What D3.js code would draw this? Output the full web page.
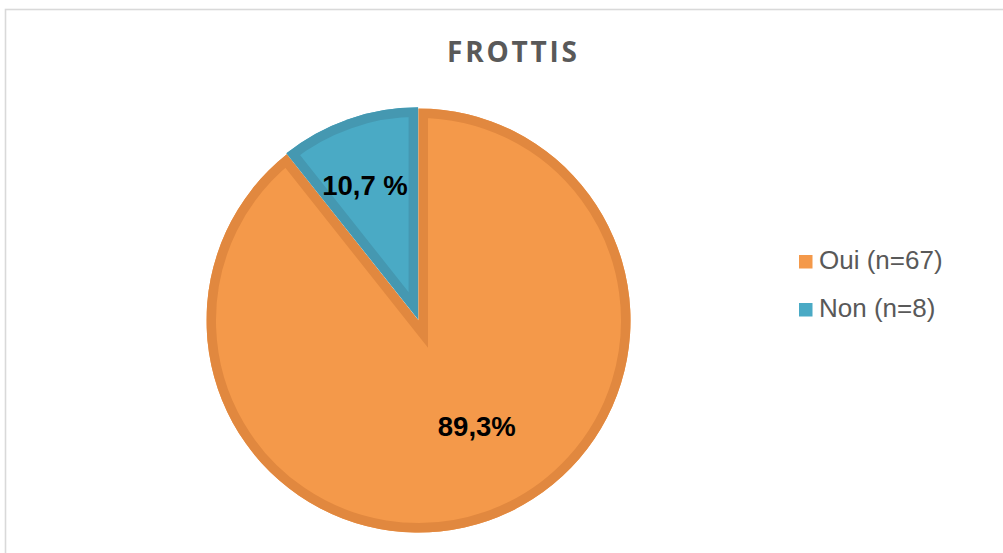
<!DOCTYPE html>
<html>
<head>
<meta charset="utf-8">
<script src="https://cdn.jsdelivr.net/npm/d3@7"></script>
<style>
  html, body { margin: 0; padding: 0; background: #fff; }
  svg { display: block; }
</style>
</head>
<body>
<svg id="chart" width="1003" height="553"></svg>
<script>
// ---- data ----
const title = "FROTTIS";
const categories = ["Oui (n=67)", "Non (n=8)"];
const counts = [67, 8];
const pctLabels = ["89,3%", "10,7 %"];
const fills = ["#F4994A", "#4AAAC5"];
const borders = ["#E1883F", "#4598B1"];

// ---- layout ----
const W = 1003, H = 553;
const cx = 418.5, cy = 320.5, R = 212;
const inner = 9.5;          // inner border width
const explodeNon = 1.2;
const labelPos = [{r: 121, a: 151.2}, {r: 146, a: -21.5}]; // radius, angle (deg from 12 o'clock)

const svg = d3.select("#chart");

// frame
svg.append("rect")
  .attr("x", 5.5).attr("y", 9.5)
  .attr("width", W + 20).attr("height", H + 20)
  .attr("fill", "#fff").attr("stroke", "#D9D9D9").attr("stroke-width", 1.6);

// title
svg.append("text")
  .attr("x", 512).attr("y", 62)
  .attr("text-anchor", "middle")
  .attr("font-family", "'Open Sans', sans-serif")
  .attr("font-weight", 700)
  .attr("font-size", 28)
  .attr("fill", "#595959")
  .attr("textLength", 130)
  .attr("lengthAdjust", "spacing")
  .attr("transform", "translate(512,62) scale(1,1.03) translate(-512,-62)")
  .text(title);

const pie = d3.pie().sort(null).value(d => d)(counts);
const arc = d3.arc().innerRadius(0).outerRadius(R);

const g = svg.append("g").attr("transform", `translate(${cx},${cy})`);
const defs = svg.append("defs");

pie.forEach((p, i) => {
  const mid = (p.startAngle + p.endAngle) / 2;
  const ex = i === 1 ? explodeNon : 0;
  const tx = Math.sin(mid) * ex, ty = -Math.cos(mid) * ex;
  const d = arc(p);
  defs.append("clipPath").attr("id", "clip" + i)
    .append("path").attr("d", d);
  const sg = g.append("g").attr("transform", `translate(${tx},${ty})`);
  sg.append("path").attr("d", d).attr("fill", fills[i]);
  sg.append("path").attr("d", d)
    .attr("fill", "none")
    .attr("stroke", borders[i])
    .attr("stroke-width", inner * 2)
    .attr("stroke-linejoin", "miter")
    .attr("stroke-miterlimit", 6)
    .attr("clip-path", `url(#clip${i})`);
});

// data labels
pie.forEach((p, i) => {
  const a = labelPos[i].a * Math.PI / 180;
  const lx = Math.sin(a) * labelPos[i].r, ly = -Math.cos(a) * labelPos[i].r;
  g.append("text")
    .attr("x", lx).attr("y", ly)
    .attr("dy", "0.36em")
    .attr("text-anchor", "middle")
    .attr("font-family", "Arial, 'Liberation Sans', sans-serif")
    .attr("font-weight", 700)
    .attr("font-size", 27.5)
    .attr("fill", "#000")
    .text(pctLabels[i]);
});

// legend
const leg = svg.append("g").attr("transform", "translate(799,255)");
const rowH = 48;
categories.forEach((c, i) => {
  const row = leg.append("g").attr("transform", `translate(0,${i * rowH})`);
  row.append("rect").attr("x", 0).attr("y", 0).attr("width", 13.5).attr("height", 13.5)
    .attr("fill", fills[i]);
  row.append("text").attr("x", 20).attr("y", 14.3)
    .attr("font-family", "Arial, 'Liberation Sans', sans-serif")
    .attr("font-size", 26)
    .attr("fill", "#595959")
    .text(c);
});
</script>
</body>
</html>
